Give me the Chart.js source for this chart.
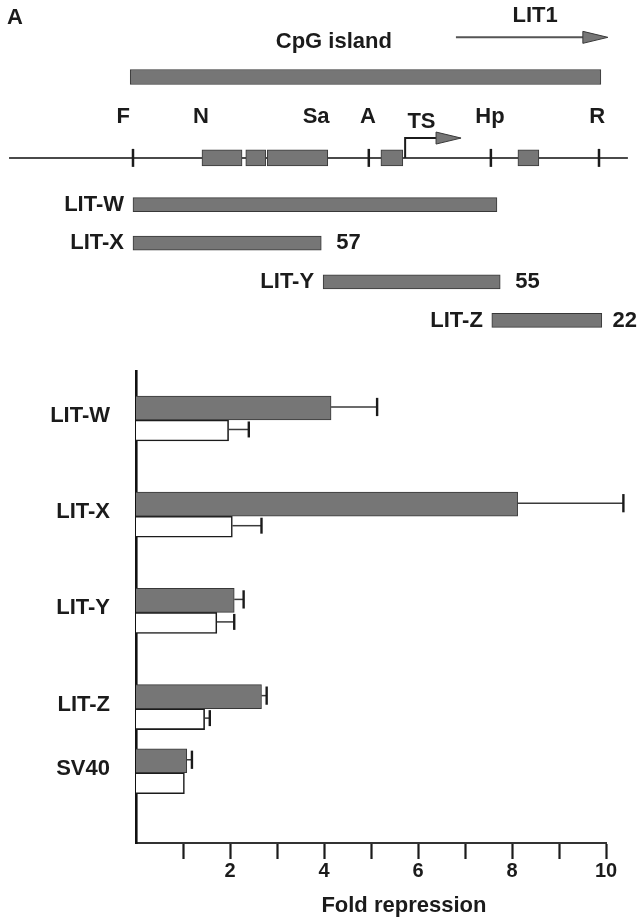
<!DOCTYPE html>
<html>
<head>
<meta charset="utf-8">
<script src="https://cdn.jsdelivr.net/npm/chart.js@4.4.1/dist/chart.umd.min.js"></script>
<style>
  html, body { margin: 0; padding: 0; background: #ffffff; }
  #wrap { position: relative; width: 638px; height: 918px; overflow: hidden; }
  #mapBox { position: absolute; left: 0; top: 0; width: 638px; height: 350px; }
  #barBox { position: absolute; left: 0; top: 350px; width: 638px; height: 568px; }
</style>
</head>
<body>
<div id="wrap">
  <div id="mapBox"><canvas id="map" width="638" height="350"></canvas></div>
  <div id="barBox"><canvas id="bars" width="638" height="568"></canvas></div>
</div>
<script>
// ---------- reporter assay: fold repression ----------
const constructs       = ['LIT-W', 'LIT-X', 'LIT-Y', 'LIT-Z', 'SV40'];
const repressionFilled = [4.15, 8.12, 2.09, 2.67, 1.08];
const errorFilled      = [0.98, 2.25, 0.20, 0.11, 0.11];
const repressionOpen   = [1.97, 2.05, 1.72, 1.46, 1.03];
const errorOpen        = [0.43, 0.62, 0.37, 0.11, 0.00];
const xTickValues      = [1, 2, 3, 4, 5, 6, 7, 8, 9, 10];
const xTickLabels      = ['', '2', '', '4', '', '6', '', '8', '', '10'];
const xAxisTitle       = 'Fold repression';

// ---------- restriction map of the LIT1 CpG island (units from the F site) ----------
const fragmentNames  = ['LIT-W', 'LIT-X', 'LIT-Y', 'LIT-Z'];
const fragmentStart  = [0.00, 0.00, 4.08, 7.70];
const fragmentEnd    = [7.81, 4.04, 7.88, 10.06];
const fragmentNumber = ['', '57', '55', '22'];
const siteNames      = ['F', 'N', 'Sa', 'A', 'Hp', 'R'];
const siteLabelAt    = [-0.21, 1.46, 3.93, 5.04, 7.66, 9.96];
const cutSites       = [0.00, 5.06, 7.68, 10.00];
const exonStart      = [1.48, 2.42, 2.88, 5.32, 8.26];
const exonEnd        = [2.34, 2.85, 4.18, 5.79, 8.71];
const cpgIsland      = [-0.06, 10.04];
const mapExtent      = [-2.66, 10.62];
const tsSite         = 5.84;
const lit1Extent     = [6.93, 10.19];

// ---------- shared styling ----------
const INK = '#1b1b1b';
const GREY = '#767676';
const EDGE = '#383838';
const FONT = '"Liberation Sans", Arial, Helvetica, sans-serif';

// vertical tracks of the map (in track units)
const track = {
  panel: 0.45, lit1Text: 0.40, lit1Arrow: 0.96, cpgText: 1.08, cpg: 1.98,
  siteText: 3.00, tsText: 3.14, tsTop: 3.55, line: 4.06,
  frag: [5.26, 6.25, 7.25, 8.24]
};
const textAt = { cpg: 4.31, lit1: 8.63, ts: 6.19 };

// grouping of the bar rows (blank rows between groups)
const rowSlot = [0, 3, 6, 9, 11];

// ---------- map decorations: labels and arrows ----------
const mapDecor = {
  id: 'mapDecor',
  afterDatasetsDraw(chart) {
    const { ctx, scales: { x, y } } = chart;
    ctx.save();
    ctx.fillStyle = INK;
    ctx.strokeStyle = INK;
    ctx.font = 'bold 22px ' + FONT;
    ctx.textBaseline = 'middle';

    ctx.textAlign = 'left';
    ctx.fillText('A', 7, y.getPixelForValue(track.panel));

    ctx.textAlign = 'center';
    ctx.fillText('LIT1', x.getPixelForValue(textAt.lit1), y.getPixelForValue(track.lit1Text));
    ctx.fillText('CpG island', x.getPixelForValue(textAt.cpg), y.getPixelForValue(track.cpgText));
    siteNames.forEach((n, i) => {
      ctx.fillText(n, x.getPixelForValue(siteLabelAt[i]), y.getPixelForValue(track.siteText));
    });
    ctx.fillText('TS', x.getPixelForValue(textAt.ts), y.getPixelForValue(track.tsText));

    // fragment names and sizes
    fragmentNames.forEach((n, i) => {
      const yy = y.getPixelForValue(track.frag[i]);
      ctx.textAlign = 'right';
      ctx.fillText(n, x.getPixelForValue(fragmentStart[i]) - 9, yy);
      if (fragmentNumber[i]) {
        ctx.textAlign = 'left';
        const w = ctx.measureText(fragmentNumber[i]).width;
        const nx = Math.min(x.getPixelForValue(fragmentEnd[i]) + 15, chart.width - w - 1);
        ctx.fillText(fragmentNumber[i], nx, yy);
      }
    });

    // arrowheads
    const head = (tipX, yy, len, half) => {
      ctx.beginPath();
      ctx.moveTo(tipX, yy);
      ctx.lineTo(tipX - len, yy - half);
      ctx.lineTo(tipX - len, yy + half);
      ctx.closePath();
      ctx.fillStyle = GREY;
      ctx.fill();
      ctx.lineWidth = 1;
      ctx.strokeStyle = EDGE;
      ctx.stroke();
    };
    head(x.getPixelForValue(lit1Extent[1]), y.getPixelForValue(track.lit1Arrow), 25, 6);
    head(x.getPixelForValue(textAt.ts + 0.85), y.getPixelForValue(track.tsTop), 25, 6);
    ctx.restore();
  }
};

new Chart(document.getElementById('map'), {
  type: 'bar',
  data: {
    datasets: [
      { // cut sites
        type: 'scatter',
        data: cutSites.map(v => ({ x: v, y: track.line })),
        pointStyle: 'line', rotation: 90, radius: 9,
        borderWidth: 2.5, borderColor: INK, order: 0
      },
      { // exons
        type: 'bar', indexAxis: 'y', grouped: false,
        data: exonStart.map((s, i) => ({ y: track.line, x: [s, exonEnd[i]] })),
        barThickness: 16, backgroundColor: GREY, borderColor: EDGE,
        borderWidth: 1, borderSkipped: false, order: 1
      },
      { // transcription start arrow
        type: 'line',
        data: [
          { x: tsSite, y: track.line },
          { x: tsSite, y: track.tsTop },
          { x: textAt.ts + 0.35, y: track.tsTop }
        ],
        borderColor: INK, borderWidth: 2, pointRadius: 0, tension: 0, order: 2
      },
      { // LIT1 transcript arrow shaft
        type: 'line',
        data: [
          { x: lit1Extent[0], y: track.lit1Arrow },
          { x: lit1Extent[1] - 0.45, y: track.lit1Arrow }
        ],
        borderColor: '#555555', borderWidth: 2, pointRadius: 0, order: 2
      },
      { // genomic line
        type: 'line',
        data: [{ x: mapExtent[0], y: track.line }, { x: mapExtent[1], y: track.line }],
        borderColor: '#4a4a4a', borderWidth: 2, pointRadius: 0, order: 3
      },
      { // CpG island
        type: 'bar', indexAxis: 'y', grouped: false,
        data: [{ y: track.cpg, x: cpgIsland }],
        barThickness: 15, backgroundColor: GREY, borderColor: EDGE,
        borderWidth: 1, borderSkipped: false, order: 1
      },
      { // reporter fragments
        type: 'bar', indexAxis: 'y', grouped: false,
        data: fragmentStart.map((s, i) => ({ y: track.frag[i], x: [s, fragmentEnd[i]] })),
        barThickness: 14, backgroundColor: GREY, borderColor: EDGE,
        borderWidth: 1, borderSkipped: false, order: 1
      }
    ]
  },
  options: {
    responsive: false, animation: false,
    layout: { padding: 0, autoPadding: false },
    plugins: { legend: { display: false }, tooltip: { enabled: false } },
    scales: {
      x: { type: 'linear', min: -2.854, max: 10.837, display: false, offset: false, grid: { offset: false } },
      y: { type: 'linear', reverse: true, min: 0, max: 9, display: false, offset: false, grid: { offset: false } }
    }
  },
  plugins: [mapDecor]
});

// ---------- error bars and axis title for the bar chart ----------
const errorBars = {
  id: 'errorBars',
  afterDatasetsDraw(chart) {
    const { ctx, scales: { x } } = chart;
    ctx.save();
    chart.data.datasets.forEach((ds, di) => {
      const meta = chart.getDatasetMeta(di);
      meta.data.forEach((bar, i) => {
        const e = ds.errors[i];
        if (!e) return;
        const v = ds.data[i].x;
        const x0 = x.getPixelForValue(v);
        const x1 = x.getPixelForValue(v + e);
        const yc = bar.y - 1;
        const cap = ds.barThickness * 0.38;
        ctx.strokeStyle = '#3a3a3a';
        ctx.lineWidth = 1.5;
        ctx.beginPath(); ctx.moveTo(x0, yc); ctx.lineTo(x1, yc); ctx.stroke();
        ctx.strokeStyle = INK;
        ctx.lineWidth = 2.4;
        ctx.beginPath(); ctx.moveTo(x1, yc - cap); ctx.lineTo(x1, yc + cap); ctx.stroke();
      });
    });
    ctx.restore();
  }
};

const axisTitle = {
  id: 'axisTitle',
  afterDraw(chart) {
    const { ctx, scales: { x } } = chart;
    ctx.save();
    ctx.fillStyle = INK;
    ctx.font = 'bold 22px ' + FONT;
    ctx.textAlign = 'center';
    ctx.textBaseline = 'middle';
    ctx.fillText(xAxisTitle, x.getPixelForValue(5.7), chart.height - 12);
    ctx.restore();
  }
};

new Chart(document.getElementById('bars'), {
  type: 'bar',
  data: {
    datasets: [
      {
        label: 'filled',
        data: constructs.map((c, i) => ({ y: rowSlot[i], x: repressionFilled[i] })),
        errors: errorFilled,
        backgroundColor: GREY, borderColor: EDGE, borderWidth: 1,
        barThickness: 24
      },
      {
        label: 'open',
        data: constructs.map((c, i) => ({ y: rowSlot[i], x: repressionOpen[i] })),
        errors: errorOpen,
        backgroundColor: '#ffffff', borderColor: INK, borderWidth: 1.6,
        barThickness: 21
      }
    ]
  },
  options: {
    indexAxis: 'y',
    responsive: false, animation: false,
    layout: { padding: { top: 21, left: 0, right: 32, bottom: 0 } },
    plugins: { legend: { display: false }, tooltip: { enabled: false } },
    scales: {
      x: {
        type: 'linear', position: 'bottom', min: 0, max: 10,
        afterBuildTicks: s => { s.ticks = xTickValues.map(v => ({ value: v })); },
        ticks: {
          autoSkip: false, maxRotation: 0, padding: 0, color: INK,
          font: { family: FONT, size: 20, weight: 'bold' },
          callback: v => xTickLabels[xTickValues.indexOf(v)]
        },
        grid: { drawOnChartArea: false, drawTicks: true, tickLength: 16, tickWidth: 2.2, tickColor: INK, offset: false },
        border: { display: true, color: '#333333', width: 2 },
        afterFit: s => { s.height = 75; s.paddingLeft = 0; s.paddingRight = 0; }
      },
      y: {
        type: 'linear', reverse: true, min: -1.527, max: 13.19, offset: false,
        afterBuildTicks: s => { s.ticks = rowSlot.map(v => ({ value: v })); },
        ticks: {
          autoSkip: false, padding: 26, labelOffset: -4, color: INK,
          font: { family: FONT, size: 22, weight: 'bold' },
          callback: v => constructs[rowSlot.indexOf(v)]
        },
        grid: { display: false, drawTicks: false },
        border: { display: true, color: '#111111', width: 2.6 },
        afterFit: s => { s.width = 136; s.paddingTop = 0; s.paddingBottom = 0; }
      }
    }
  },
  plugins: [errorBars, axisTitle]
});
</script>
</body>
</html>
